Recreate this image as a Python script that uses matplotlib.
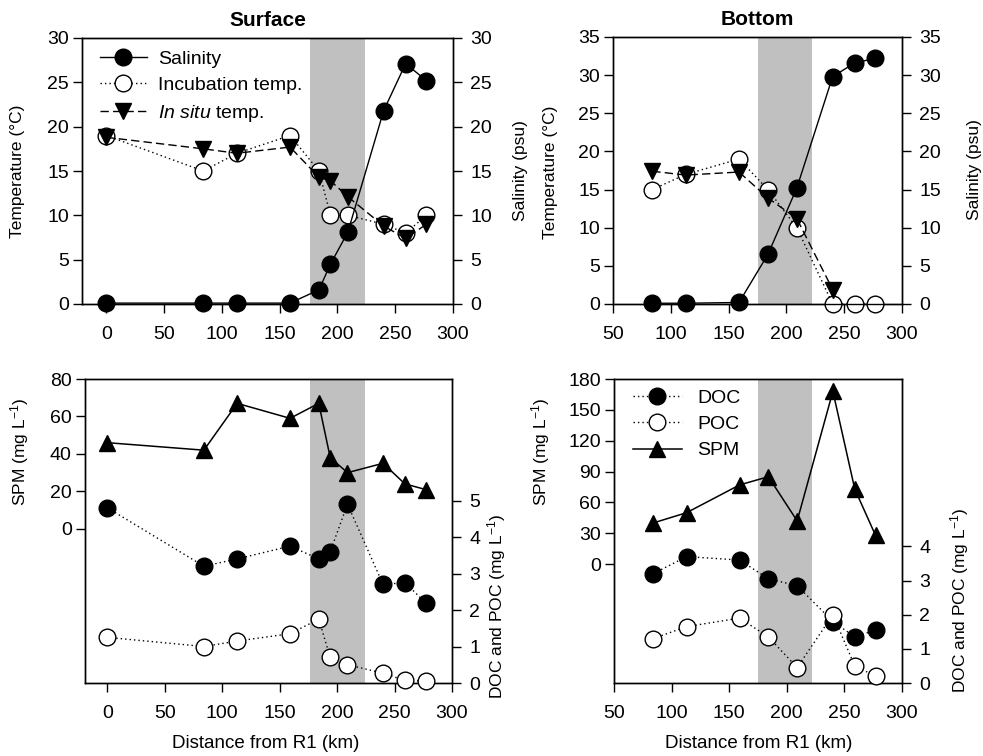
import matplotlib
matplotlib.use('Agg')
import matplotlib.pyplot as plt

plt.rcParams['font.family'] = ['Liberation Sans', 'DejaVu Sans']
plt.rcParams['mathtext.fontset'] = 'custom'
plt.rcParams['mathtext.rm'] = 'Liberation Sans'
plt.rcParams['mathtext.it'] = 'Liberation Sans:italic'
plt.rcParams['mathtext.default'] = 'regular'

# ---------------- data ----------------
dist_surf = [0, 84, 113, 159, 184, 194, 209, 240, 259, 277]
sal_surf = [0.1, 0.1, 0.1, 0.1, 1.6, 4.5, 8.1, 21.8, 27.1, 25.2]
inc_surf = [19.0, 15.0, 17.0, 19.0, 15.0, 10.0, 10.0, 9.0, 8.0, 10.0]
insitu_surf = [18.8, 17.5, 17.0, 17.7, 14.3, 13.9, 12.1, 8.8, 7.4, 9.0]
spm_surf = [46, 42, 67, 59, 67, 38, 30, 35, 24, 21]
doc_surf = [4.8, 3.2, 3.4, 3.75, 3.4, 3.6, 4.9, 2.7, 2.75, 2.2]
poc_surf = [1.25, 1.0, 1.15, 1.35, 1.75, 0.7, 0.5, 0.27, 0.07, 0.05]

dist_bot = [84, 113, 159, 184, 209, 240, 259, 277]
sal_bot = [0.1, 0.1, 0.2, 6.5, 15.2, 29.8, 31.6, 32.2]
inc_bot = [15.0, 17.0, 19.0, 15.0, 10.0, 0.0, 0.0, 0.0]
insitu_bot = [17.4, 16.9, 17.3, 13.9, 11.2, 1.9]
spm_bot = [40, 50, 77, 85, 42, 168, 73, 28]
doc_bot = [3.2, 3.7, 3.6, 3.05, 2.85, 1.8, 1.35, 1.55]
poc_bot = [1.3, 1.65, 1.9, 1.35, 0.45, 2.0, 0.5, 0.2]

turbid_surf = (176, 224)
turbid_bot = (175, 222)

x_ticks_surf = [0, 50, 100, 150, 200, 250, 300]
x_ticks_bot = [50, 100, 150, 200, 250, 300]
temp_ticks_surf = [0, 5, 10, 15, 20, 25, 30]
temp_ticks_bot = [0, 5, 10, 15, 20, 25, 30, 35]
spm_ticks_surf = [0, 20, 40, 60, 80]
spm_ticks_bot = [0, 30, 60, 90, 120, 150, 180]
oc_ticks_surf = [0, 1, 2, 3, 4, 5]
oc_ticks_bot = [0, 1, 2, 3, 4]

# ---------------- layout ----------------
W, H = 983, 756
fig = plt.figure(figsize=(W / 100, H / 100), dpi=100)

TL = (82, 38, 453, 304)
TR = (613, 37, 902, 304)
BL = (85, 379, 452, 683)
BR = (614, 379, 902, 683)

SHADE = '#c0c0c0'
MS = 12
TICK_FS = 14


def make_axes(b):
    l, t, r, bt = b
    return fig.add_axes([l / W, 1 - bt / H, (r - l) / W, (bt - t) / H])


def style(ax, right=False):
    for s in ax.spines.values():
        s.set_linewidth(1.0)
    ax.tick_params(direction='out', length=6.5, width=1, labelsize=TICK_FS)
    ax.tick_params(axis='x', pad=9)
    ax.tick_params(axis='y', pad=6 if right else 3)


def place(label, b, px, py):
    l, t, r, bt = b
    label.set_rotation_mode('default')
    label.set_ha('center')
    label.set_va('center')
    return ((px - l) / (r - l), (bt - py) / (bt - t))


def ylab(ax, text, b, px, py, fs=12.5):
    ax.set_ylabel(text, fontsize=fs)
    xy = place(ax.yaxis.label, b, px, py)
    ax.yaxis.set_label_coords(*xy)


def xlab(ax, text, b, px, py, fs=13.5):
    ax.set_xlabel(text, fontsize=fs)
    xy = place(ax.xaxis.label, b, px, py)
    ax.xaxis.set_label_coords(*xy)


dot = (0, (1, 2.2))
dash = (0, (6, 3))

# ---------------- top panels ----------------
for b, dist, sal, inc, ins, shade, xl, xt, yl, yt, title, labpos in [
    (TL, dist_surf, sal_surf, inc_surf, insitu_surf, turbid_surf, (-21, 300), x_ticks_surf,
     30, temp_ticks_surf, 'Surface', ((18, 171), (520, 171), 21)),
    (TR, dist_bot, sal_bot, inc_bot, insitu_bot, turbid_bot, (50, 300), x_ticks_bot,
     35, temp_ticks_bot, 'Bottom', ((550, 172), (974, 170), 20)),
]:
    ax = make_axes(b)
    ax2 = ax.twinx()
    style(ax)
    style(ax2, right=True)
    ax.axvspan(shade[0], shade[1], color=SHADE, lw=0, zorder=0)
    l_inc, = ax.plot(dist, inc, linestyle=dot, color='black', lw=1, marker='o', ms=MS,
                     mfc='white', mec='black', mew=1, clip_on=False, zorder=3,
                     label='Incubation temp.')
    l_ins, = ax.plot(dist[:len(ins)], ins, linestyle=dash, color='black', lw=1, marker='v',
                     ms=MS, mfc='black', mec='black', clip_on=False, zorder=4,
                     label=r'$\it{In\ situ}$ temp.')
    l_sal, = ax2.plot(dist, sal, linestyle='-', color='black', lw=1, marker='o', ms=MS,
                      mfc='black', mec='black', clip_on=False, zorder=3, label='Salinity')
    ax.set_xlim(*xl)
    ax.set_ylim(0, yl)
    ax2.set_ylim(0, yl)
    ax.set_xticks(xt)
    ax.set_yticks(yt)
    ax2.set_yticks(yt)
    ax.set_title(title, fontweight='bold', fontsize=15, pad=0,
                 y=(b[3] - labpos[2]) / (b[3] - b[1]), va='center')
    ylab(ax, 'Temperature (°C)', b, *labpos[0])
    ylab(ax2, 'Salinity (psu)', b, *labpos[1])
    if b is TL:
        ax2.legend(handles=[l_sal, l_inc, l_ins], loc='upper left',
                   bbox_to_anchor=((100 - b[0]) / (b[2] - b[0]), (b[3] - 50) / (b[3] - b[1])),
                   frameon=False, fontsize=14, borderaxespad=0, borderpad=0,
                   handlelength=2.4, handletextpad=0.6, labelspacing=0.45,
                   numpoints=1)

# ---------------- bottom panels ----------------
for b, dist, spm, doc, poc, shade, xl, xt, spm_lim, spm_t, oc_top, oc_t, labpos in [
    (BL, dist_surf, spm_surf, doc_surf, poc_surf, turbid_surf, (-19.5, 300), x_ticks_surf,
     (-82.3, 80), spm_ticks_surf, 8.33, oc_ticks_surf, ((20, 452), (497, 606), (266, 744))),
    (BR, dist_bot, spm_bot, doc_bot, poc_bot, turbid_bot, (50, 300), x_ticks_bot,
     (-115.6, 180), spm_ticks_bot, 8.9, oc_ticks_bot, ((541, 452), (960, 600), (759, 744))),
]:
    ax = make_axes(b)
    ax2 = ax.twinx()
    style(ax)
    style(ax2, right=True)
    ax.axvspan(shade[0], shade[1], color=SHADE, lw=0, zorder=0)
    l_spm, = ax.plot(dist, spm, linestyle='-', color='black', lw=1.1, marker='^', ms=MS,
                     mfc='black', mec='black', clip_on=False, zorder=3, label='SPM')
    l_doc, = ax2.plot(dist, doc, linestyle=dot, color='black', lw=1, marker='o', ms=MS,
                      mfc='black', mec='black', clip_on=False, zorder=3, label='DOC')
    l_poc, = ax2.plot(dist, poc, linestyle=dot, color='black', lw=1, marker='o', ms=MS,
                      mfc='white', mec='black', mew=1, clip_on=False, zorder=4, label='POC')
    ax.set_xlim(*xl)
    ax.set_ylim(*spm_lim)
    ax2.set_ylim(0, oc_top)
    ax.set_xticks(xt)
    ax.set_yticks(spm_t)
    ax2.set_yticks(oc_t)
    ylab(ax, 'SPM (mg L$^{-1}$)', b, *labpos[0])
    ylab(ax2, 'DOC and POC (mg L$^{-1}$)', b, *labpos[1])
    xlab(ax, 'Distance from R1 (km)', b, *labpos[2])
    if b is BR:
        ax2.legend(handles=[l_doc, l_poc, l_spm], loc='upper left',
                   bbox_to_anchor=((633 - b[0]) / (b[2] - b[0]), (b[3] - 389) / (b[3] - b[1])),
                   frameon=False, fontsize=14, borderaxespad=0, borderpad=0,
                   handlelength=2.5, handletextpad=0.8, labelspacing=0.45, numpoints=1)

fig.savefig('out.png', dpi=100)
